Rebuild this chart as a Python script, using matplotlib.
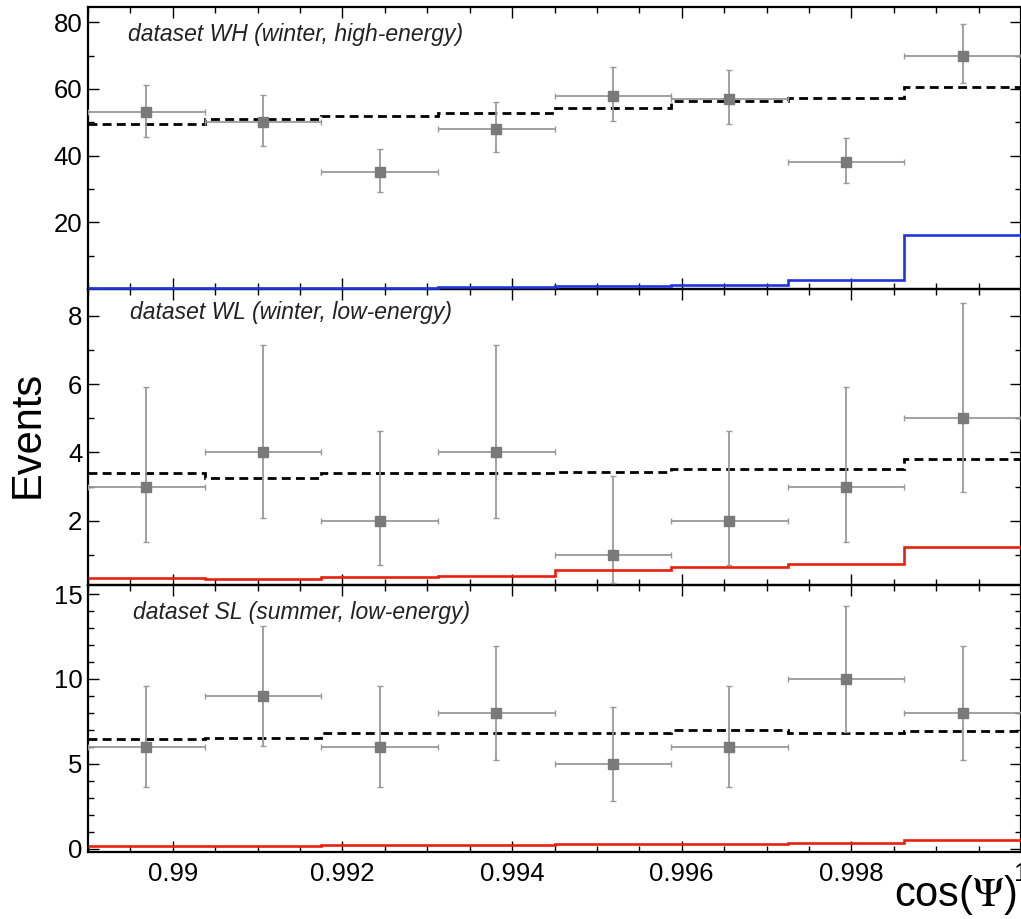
import numpy as np
import matplotlib
matplotlib.use("Agg")
import matplotlib.pyplot as plt
from matplotlib.ticker import MultipleLocator, FixedLocator

plt.rcParams['font.family'] = ['Liberation Sans', 'DejaVu Sans']
plt.rcParams['mathtext.fontset'] = 'stix'

# ---- data ----
bin_edges = [0.989, 0.990375, 0.99175, 0.993125, 0.9945, 0.995875, 0.99725, 0.998625, 1.0]

wh_counts = [53, 50, 35, 48, 58, 57, 38, 70]
wh_low = [45.74, 42.96, 29.12, 41.10, 50.41, 49.47, 31.87, 61.66]
wh_high = [61.33, 58.12, 41.97, 55.97, 66.66, 65.59, 45.22, 79.40]
wh_bkg = [49.5, 50.9, 51.8, 52.9, 54.4, 56.4, 57.2, 60.7]
wh_sig = [0.2, 0.25, 0.35, 0.5, 0.9, 1.2, 2.7, 16.2]

wl_counts = [3, 4, 2, 4, 1, 2, 3, 5]
wl_low = [1.37, 2.09, 0.71, 2.09, 0.17, 0.71, 1.37, 2.84]
wl_high = [5.92, 7.16, 4.64, 7.16, 3.30, 4.64, 5.92, 8.38]
wl_bkg = [3.41, 3.26, 3.39, 3.39, 3.43, 3.52, 3.52, 3.80]
wl_sig = [0.33, 0.30, 0.36, 0.39, 0.545, 0.63, 0.74, 1.22]

sl_counts = [6, 9, 6, 8, 5, 6, 10, 8]
sl_low = [3.62, 6.06, 3.62, 5.23, 2.84, 3.62, 6.89, 5.23]
sl_high = [9.58, 13.12, 9.58, 11.94, 8.38, 9.58, 14.27, 11.94]
sl_bkg = [6.45, 6.55, 6.8, 6.8, 6.8, 7.0, 6.8, 6.95]
sl_sig = [0.15, 0.2, 0.25, 0.25, 0.3, 0.3, 0.35, 0.5]

labels = ["dataset WH (winter, high-energy)",
          "dataset WL (winter, low-energy)",
          "dataset SL (summer, low-energy)"]
x_ticks = [0.99, 0.992, 0.994, 0.996, 0.998, 1.0]
x_ticklabels = ["0.99", "0.992", "0.994", "0.996", "0.998", "1"]

# ---- figure ----
W, H = 1021, 919
fig = plt.figure(figsize=(W / 100, H / 100), dpi=100)

def frac_y(px):
    return 1 - px / H

left = 88 / W
right = 1.0
panels_px = [(7, 289), (289, 585), (585, 852)]
ylims = [(0, 84.6), (0.115, 8.79), (-0.18, 15.53)]
sig_colors = ['#1f35e0', '#e8200f', '#e8200f']
datasets = [
    (wh_counts, wh_low, wh_high, wh_bkg, wh_sig),
    (wl_counts, wl_low, wl_high, wl_bkg, wl_sig),
    (sl_counts, sl_low, sl_high, sl_bkg, sl_sig),
]
major_y = [[20, 40, 60, 80], [2, 4, 6, 8], [0, 5, 10, 15]]
minor_y = [[10, 30, 50, 70], [1, 3, 5, 7], list(range(0, 16))]
label_y_px = [35, 313, 612]
label_x_px = [128, 130, 133]

edges = np.array(bin_edges)
centers = 0.5 * (edges[:-1] + edges[1:])
halfw = 0.5 * (edges[1:] - edges[:-1])

for i, ((top, bot), yl, col, ds) in enumerate(zip(panels_px, ylims, sig_colors, datasets)):
    ax = fig.add_axes([left, frac_y(bot), right - left, (bot - top) / H])
    ax.set_zorder(3 - i)
    ax.patch.set_visible(False)
    counts, lo, hi, bkg, sig = [np.array(a, dtype=float) for a in ds]
    ax.stairs(sig, edges, baseline=None, color=col, lw=1.9, zorder=5, clip_on=False)
    ax.stairs(bkg, edges, baseline=None, color='black', lw=2.0,
              linestyle=(0, (3.2, 1.9)), zorder=3)
    yerr = np.vstack([counts - lo, hi - counts])
    ax.errorbar(centers, counts, xerr=halfw, yerr=yerr, fmt='s', color='#7a7a7a',
                ecolor='#9a9a9a', elinewidth=1.3, capsize=2.5, capthick=1.0,
                markersize=6.5, zorder=4)
    ax.set_xlim(bin_edges[0], bin_edges[-1])
    ax.set_ylim(*yl)
    ax.yaxis.set_major_locator(FixedLocator(major_y[i]))
    ax.yaxis.set_minor_locator(FixedLocator(minor_y[i]))
    ax.xaxis.set_major_locator(FixedLocator(x_ticks))
    ax.xaxis.set_minor_locator(MultipleLocator(0.0005))
    ax.tick_params(which='both', direction='in', top=True, right=True, width=1.0,
                   labelsize=18.5)
    ax.tick_params(which='major', length=8)
    ax.tick_params(which='minor', length=4.5)
    ax.tick_params(axis='y', pad=4)
    ax.tick_params(axis='x', pad=7)
    for s in ax.spines.values():
        s.set_linewidth(1.6)
    if i < 2:
        ax.set_xticklabels([])
    else:
        ax.set_xticklabels(x_ticklabels)
    fig.text(label_x_px[i] / W, frac_y(label_y_px[i]), labels[i], fontsize=16.5,
             style='italic', ha='left', va='center', color='#222222')

fig.text(28 / W, frac_y(434), "Events", rotation=90, fontsize=30,
         ha='center', va='center')
fig.text(1017 / W, frac_y(895), r"cos($\Psi$)", fontsize=30,
         ha='right', va='center')

fig.savefig("out.png", dpi=100)
